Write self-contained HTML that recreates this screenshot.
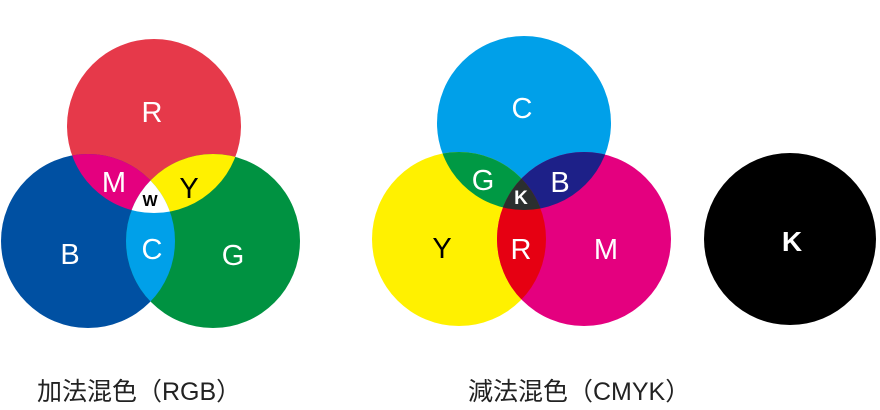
<!DOCTYPE html>
<html><head><meta charset="utf-8"><style>
html,body{margin:0;padding:0;background:#fff;}
svg{display:block}
text{font-family:"Liberation Sans","Noto Sans CJK JP",sans-serif;}
</style></head><body>
<svg width="880" height="410" viewBox="0 0 880 410" xmlns="http://www.w3.org/2000/svg">
<defs>
<clipPath id="cR"><circle cx="154" cy="126" r="87"/></clipPath>
<clipPath id="cB"><circle cx="88" cy="241" r="87"/></clipPath>
<clipPath id="kC"><circle cx="524" cy="123" r="87"/></clipPath>
<clipPath id="kY"><circle cx="459" cy="239" r="87"/></clipPath>
</defs>
<!-- RGB -->
<circle cx="154" cy="126" r="87" fill="#e6394a"/>
<circle cx="88" cy="241" r="87" fill="#0050a2"/>
<circle cx="213" cy="241" r="87" fill="#009241"/>
<g clip-path="url(#cR)"><circle cx="88" cy="241" r="87" fill="#e4007f"/><circle cx="213" cy="241" r="87" fill="#fff100"/></g>
<g clip-path="url(#cB)"><circle cx="213" cy="241" r="87" fill="#00a0e9"/></g>
<g clip-path="url(#cR)"><g clip-path="url(#cB)"><circle cx="213" cy="241" r="87" fill="#fff"/></g></g>
<g fill="#fff" font-size="29" text-anchor="middle">
<text x="152" y="122">R</text>
<text x="70" y="264">B</text>
<text x="233" y="265">G</text>
<text x="114" y="192">M</text>
<text x="152" y="259">C</text>
</g>
<text x="189" y="198" font-size="29" text-anchor="middle" fill="#000">Y</text>
<text x="150" y="206" font-size="16" font-weight="bold" text-anchor="middle" fill="#000">W</text>
<!-- CMYK -->
<circle cx="524" cy="123" r="87" fill="#00a0e9"/>
<circle cx="459" cy="239" r="87" fill="#fff100"/>
<circle cx="584" cy="239" r="87" fill="#e4007f"/>
<g clip-path="url(#kC)"><circle cx="459" cy="239" r="87" fill="#009944"/><circle cx="584" cy="239" r="87" fill="#1d2088"/></g>
<g clip-path="url(#kY)"><circle cx="584" cy="239" r="87" fill="#e60012"/></g>
<g clip-path="url(#kC)"><g clip-path="url(#kY)"><circle cx="584" cy="239" r="87" fill="#2b2f2f"/></g></g>
<circle cx="790" cy="239" r="86" fill="#000"/>
<g fill="#fff" font-size="29" text-anchor="middle">
<text x="522" y="118">C</text>
<text x="483" y="190">G</text>
<text x="560" y="192">B</text>
<text x="521" y="259">R</text>
<text x="606" y="259">M</text>
<text x="792" y="251" font-weight="bold" font-size="28">K</text>
<text x="521" y="204" font-size="19" font-weight="bold">K</text>
</g>
<text x="442" y="258" font-size="29" text-anchor="middle" fill="#000">Y</text>
<text x="37" y="400" font-size="25" fill="#222">加法混色（RGB）</text>
<text x="468" y="400" font-size="25" fill="#222">減法混色（CMYK）</text>
</svg>
</body></html>
